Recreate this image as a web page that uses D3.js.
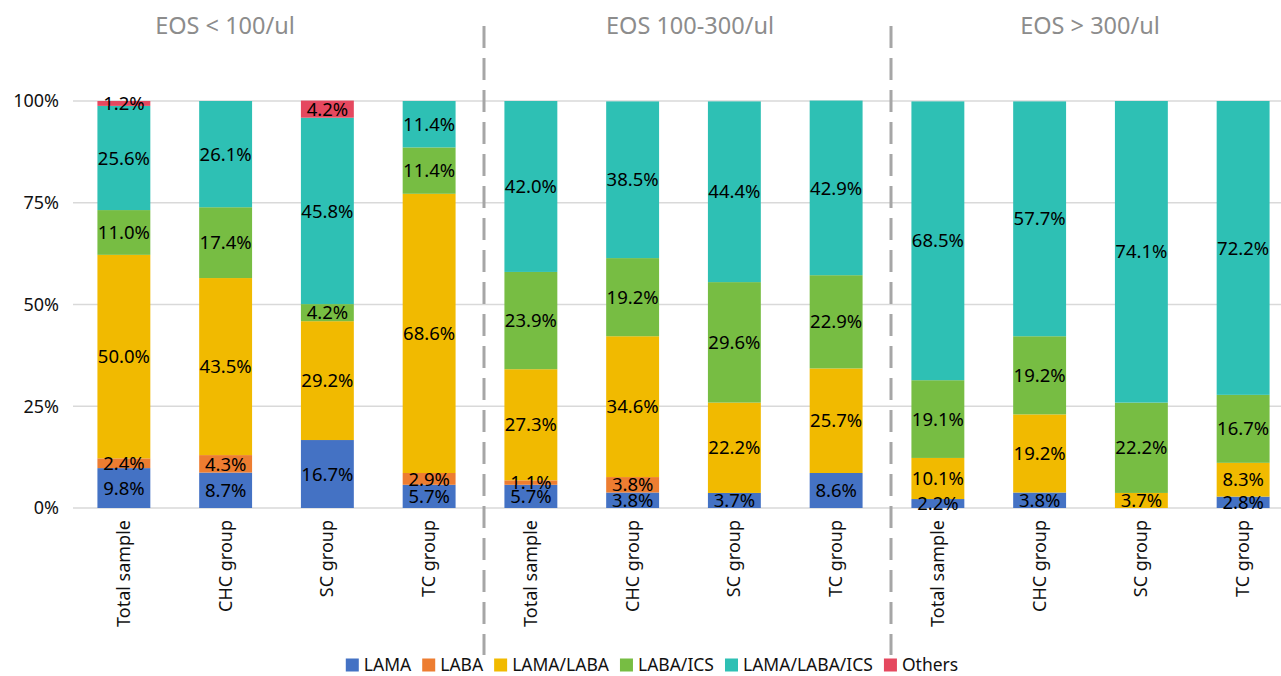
<!DOCTYPE html>
<html>
<head>
<meta charset="utf-8">
<script src="https://cdn.jsdelivr.net/npm/d3@7"></script>
<style>
  body { margin: 0; background: #fff; }
  svg { display: block; font-family: "Noto Sans", sans-serif; }
</style>
</head>
<body>
<svg id="chart" width="1281" height="676"></svg>
<script>
// panels and the bars inside each one
const panels = ['EOS < 100/ul', 'EOS 100-300/ul', 'EOS > 300/ul'];
const groups = ['Total sample', 'CHC group', 'SC group', 'TC group'];
const treatments = ['LAMA', 'LABA', 'LAMA/LABA', 'LABA/ICS', 'LAMA/LABA/ICS', 'Others'];
const colors = ['#4472c4', '#ed7d31', '#f1ba00', '#77bd43', '#2ec0b4', '#e5485f'];
const yTicks = [0, 25, 50, 75, 100];

// percentages, 12 bars: 4 groups x 3 panels
const lama        = [9.8, 8.7, 16.7, 5.7,   5.7, 3.8, 3.7, 8.6,   2.2, 3.8, 0, 2.8];
const laba        = [2.4, 4.3, 0, 2.9,      1.1, 3.8, 0, 0,       0, 0, 0, 0];
const lamaLaba    = [50.0, 43.5, 29.2, 68.6, 27.3, 34.6, 22.2, 25.7, 10.1, 19.2, 3.7, 8.3];
const labaIcs     = [11.0, 17.4, 4.2, 11.4, 23.9, 19.2, 29.6, 22.9, 19.1, 19.2, 22.2, 16.7];
const lamaLabaIcs = [25.6, 26.1, 45.8, 11.4, 42.0, 38.5, 44.4, 42.9, 68.5, 57.7, 74.1, 72.2];
const others      = [1.2, 0, 4.2, 0,        0, 0, 0, 0,           0, 0, 0, 0];

const seriesVals = [lama, laba, lamaLaba, labaIcs, lamaLabaIcs, others];

const rows = [];
panels.forEach((p, pi) => {
    groups.forEach((g, gi) => {
        const i = pi * groups.length + gi;
        const row = { key: i, panel: p, group: g };
        treatments.forEach((t, ti) => { row[t] = seriesVals[ti][i]; });
        rows.push(row);
    });
});

const svg = d3.select('#chart');

const x = d3.scaleBand()
    .domain(rows.map(d => d.key))
    .range([73, 1294])
    .paddingInner(0.48)
    .paddingOuter(0.24);

const y = d3.scaleLinear().domain([0, 100]).range([508, 101]);

// gridlines
svg.append('g').selectAll('line')
    .data(yTicks)
    .enter().append('line')
    .attr('x1', 73).attr('x2', 1281)
    .attr('y1', d => y(d)).attr('y2', d => y(d))
    .attr('stroke', '#d9d9d9')
    .attr('stroke-width', 1.3);

// y axis labels
svg.append('g').selectAll('text')
    .data(yTicks)
    .enter().append('text')
    .attr('x', 59)
    .attr('y', d => y(d))
    .attr('dy', '0.35em')
    .attr('text-anchor', 'end')
    .attr('font-size', 18)
    .attr('fill', '#111')
    .text(d => d + '%');

// stacked bars
const stacked = d3.stack().keys(treatments)(rows);

const layers = svg.append('g').selectAll('g')
    .data(stacked)
    .enter().append('g')
    .attr('fill', (d, i) => colors[i]);

layers.selectAll('rect')
    .data(d => d)
    .enter().append('rect')
    .attr('x', d => x(d.data.key))
    .attr('width', x.bandwidth())
    .attr('y', d => y(d[1]))
    .attr('height', d => y(d[0]) - y(d[1]));

// value labels
const labels = svg.append('g');
stacked.forEach(layer => {
    layer.forEach(d => {
        const v = d[1] - d[0];
        if (v <= 0) return;
        labels.append('text')
            .attr('x', x(d.data.key) + x.bandwidth() / 2)
            .attr('y', (y(d[0]) + y(d[1])) / 2)
            .attr('dy', '0.36em')
            .attr('text-anchor', 'middle')
            .attr('font-size', 18.5)
            .attr('fill', '#000')
            .text(d.data[layer.key].toFixed(1) + '%');
    });
});

// x category labels, rotated
svg.append('g').selectAll('text')
    .data(rows)
    .enter().append('text')
    .attr('transform', d => `translate(${x(d.key) + x.bandwidth() / 2 + 6},520) rotate(-90)`)
    .attr('text-anchor', 'end')
    .attr('font-size', 18)
    .attr('fill', '#111')
    .text(d => d.group);

// dashed separators between panels
const step = x.step();
[4, 8].forEach(k => {
    const sx = x(k) - step * 0.24 + 4;
    svg.append('line')
        .attr('x1', sx).attr('x2', sx)
        .attr('y1', 26).attr('y2', 655)
        .attr('stroke', '#a6a6a6')
        .attr('stroke-width', 3)
        .attr('stroke-dasharray', '22,10');
});

// panel titles
const titleX = [225, 690, 1090];
svg.append('g').selectAll('text')
    .data(panels)
    .enter().append('text')
    .attr('x', (d, i) => titleX[i])
    .attr('y', 34)
    .attr('text-anchor', 'middle')
    .attr('font-size', 23.5)
    .attr('fill', '#8c8c8c')
    .text(d => d);

// legend
const legend = svg.append('g');
let lx = 0;
treatments.forEach((t, i) => {
    const item = legend.append('g').attr('transform', `translate(${lx},0)`);
    item.append('rect')
        .attr('x', 0).attr('y', -6.5)
        .attr('width', 13).attr('height', 13)
        .attr('fill', colors[i]);
    const txt = item.append('text')
        .attr('x', 18)
        .attr('dy', '0.35em')
        .attr('font-size', 17.5)
        .attr('fill', '#111')
        .text(t);
    lx += 18 + txt.node().getComputedTextLength() + 11;
});
const legendW = lx - 11;
legend.attr('transform', `translate(${652 - legendW / 2},665)`);
</script>
</body>
</html>
